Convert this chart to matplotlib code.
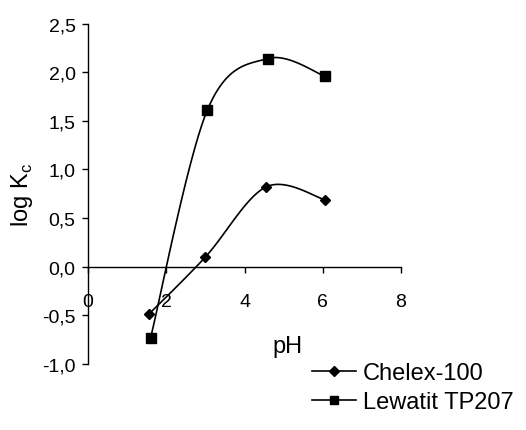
import numpy as np
import matplotlib
matplotlib.use("Agg")
import matplotlib.pyplot as plt
from matplotlib.lines import Line2D

plt.rcParams['font.family'] = ['Liberation Sans', 'DejaVu Sans']

chelex_ph = [1.55, 3.0, 4.55, 6.05]
chelex_logk = [-0.49, 0.10, 0.82, 0.69]
lewatit_ph = [1.6, 3.05, 4.6, 6.05]
lewatit_logk = [-0.73, 1.61, 2.14, 1.96]
x_ticks = [0, 2, 4, 6, 8]
y_ticks = [-1.0, -0.5, 0.0, 0.5, 1.0, 1.5, 2.0, 2.5]
series_names = ["Chelex-100", "Lewatit TP207"]


def smooth(xs, ys, n=40):
    xs = np.asarray(xs, float)
    ys = np.asarray(ys, float)
    P = np.column_stack([xs, ys])
    P = np.vstack([P[0], P, P[-1]])
    out = []
    for i in range(1, len(P) - 2):
        p0, p1, p2, p3 = P[i - 1], P[i], P[i + 1], P[i + 2]
        c1 = p1 + (p2 - p0) / 6.0
        c2 = p2 - (p3 - p1) / 6.0
        t = np.linspace(0, 1, n)[:, None]
        seg = ((1 - t) ** 3) * p1 + 3 * ((1 - t) ** 2) * t * c1 + 3 * (1 - t) * t ** 2 * c2 + t ** 3 * p2
        out.append(seg if i == 1 else seg[1:])
    s = np.vstack(out)
    return s[:, 0], s[:, 1]


fig = plt.figure(figsize=(5.26, 4.31), dpi=100)
ax = fig.add_axes([88 / 526, 1 - 365 / 431, (401 - 88) / 526, (365 - 24.5) / 431])

for xs, ys, m, ms in [(chelex_ph, chelex_logk, 'D', 5.5), (lewatit_ph, lewatit_logk, 's', 6.5)]:
    sx, sy = smooth(xs, ys)
    ax.plot(sx, sy, color='black', lw=1.2)
    ax.plot(xs, ys, linestyle='none', marker=m, color='black', markersize=ms)

ax.set_xlim(0, 8)
ax.set_ylim(-1.0, 2.5)
ax.spines['top'].set_visible(False)
ax.spines['right'].set_visible(False)
ax.spines['bottom'].set_position(('data', 0))
ax.spines['left'].set_linewidth(1.0)
ax.spines['bottom'].set_linewidth(1.0)
ax.set_xticks(x_ticks)
ax.set_xticklabels([str(v) for v in x_ticks])
ax.set_yticks(y_ticks)
ax.set_yticklabels([f"{v:.1f}".replace('.', ',') for v in y_ticks])
ax.tick_params(axis='x', direction='out', length=4, width=1, pad=15, labelsize=14)
ax.tick_params(axis='y', direction='out', length=4, width=1, pad=5, labelsize=14)
ax.set_ylabel("log K$_\\mathregular{c}$", fontsize=17, labelpad=5)
ax.text(5.1, -0.81, "pH", fontsize=17, ha='center', va='center')

handles = [Line2D([], [], color='black', lw=1.2, marker='D', markersize=5),
           Line2D([], [], color='black', lw=1.2, marker='s', markersize=6)]
fig.legend(handles, series_names, loc='upper left', bbox_to_anchor=(312 / 526, 1 - 363 / 431),
           frameon=False, fontsize=17, handlelength=1.85, handletextpad=0.3,
           borderpad=0, borderaxespad=0, labelspacing=0.3)

fig.savefig("out.png", dpi=100)
